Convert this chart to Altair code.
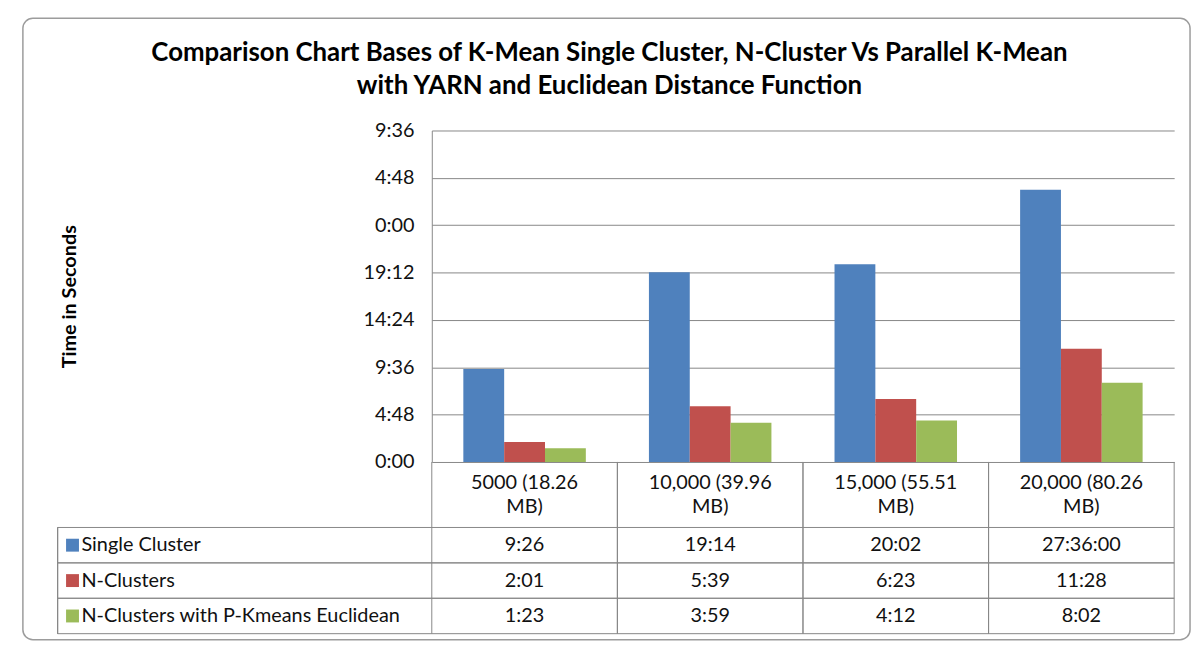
import altair as alt
import pandas as pd

categories = ["5000 (18.26 MB)", "10,000 (39.96 MB)", "15,000 (55.51 MB)", "20,000 (80.26 MB)"]
series = ["Single Cluster", "N-Clusters", "N-Clusters with P-Kmeans Euclidean"]
single_cluster = ["9:26", "19:14", "20:02", "27:36:00"]
n_clusters = ["2:01", "5:39", "6:23", "11:28"]
p_kmeans = ["1:23", "3:59", "4:12", "8:02"]
colors = ["#4F81BD", "#C0504D", "#9BBB59"]
y_ticks = [0, 4.8, 9.6, 14.4, 19.2, 24.0, 28.8, 33.6]
title_lines = ["Comparison Chart Bases of K-Mean Single Cluster, N-Cluster Vs Parallel K-Mean",
               "with YARN and Euclidean Distance Function"]


def to_hours(s):
    parts = s.split(":")
    return int(parts[0]) + int(parts[1]) / 60


rows = []
for name, vals in zip(series, [single_cluster, n_clusters, p_kmeans]):
    for cat, v in zip(categories, vals):
        rows.append({"category": cat, "series": name, "label": v, "hours": to_hours(v)})
df = pd.DataFrame(rows)
cat_df = pd.DataFrame({"category": categories})
ser_df = pd.DataFrame({"series": series})

W = 748
LEFT = -377
FONT = "Lato"
FS = 20
GRID = "#878787"
TXT = "#111111"
color_scale = alt.Scale(domain=series, range=colors)

label_expr = ("floor(datum.value % 24) + ':' + "
              "(round((datum.value % 1) * 60) < 10 ? '0' : '') + round((datum.value % 1) * 60)")

bar_layer = alt.Chart(df).mark_bar().encode(
    x=alt.X("category:N", sort=categories, axis=None,
            scale=alt.Scale(paddingInner=0.34, paddingOuter=0.17)),
    xOffset=alt.XOffset("series:N", sort=series),
    y=alt.Y("hours:Q", scale=alt.Scale(domain=[0, 33.6], nice=False, zero=True),
            axis=alt.Axis(values=y_ticks, labelExpr=label_expr, title="Time in Seconds",
                          grid=True, gridColor=GRID, gridOpacity=1, domainColor=GRID,
                          ticks=False, labelFontSize=FS, labelPadding=18, labelColor=TXT,
                          titleFontSize=FS, titleFontWeight="bold", titleColor="#000000",
                          titleX=-355, titleY=167)),
    color=alt.Color("series:N", scale=color_scale, legend=None),
)
title1 = alt.Chart(pd.DataFrame({"t": [title_lines[0]]})).mark_text(
    fontSize=26, fontWeight="bold", color="#000000", baseline="middle").encode(
    text="t:N", x=alt.value(179), y=alt.value(-78))
title2 = alt.Chart(pd.DataFrame({"t": [title_lines[1]]})).mark_text(
    fontSize=26, fontWeight="bold", color="#000000", baseline="middle").encode(
    text="t:N", x=alt.value(179), y=alt.value(-45))
bars = alt.layer(bar_layer, title1, title2).properties(width=W, height=334)

xcat = dict(sort=categories, axis=None, scale=alt.Scale(padding=0))

hdr_base = alt.Chart(cat_df)
hdr_text = hdr_base.transform_calculate(
    txt="replace(datum.category, ' MB)', '\\nMB)')"
).mark_text(lineBreak="\n", fontSize=FS, lineHeight=24, baseline="middle", color=TXT).encode(
    x=alt.X("category:N", **xcat), y=alt.value(21), text="txt:N")
hdr_l = hdr_base.mark_rule(color=GRID).encode(x=alt.X("category:N", bandPosition=0, **xcat))
hdr_r = hdr_base.mark_rule(color=GRID).encode(x=alt.X("category:N", bandPosition=1, **xcat))
header = alt.layer(hdr_l, hdr_r, hdr_text).properties(width=W, height=66)

yser = dict(sort=series, axis=None, scale=alt.Scale(padding=0))
body_vals = alt.Chart(df).mark_text(fontSize=FS, color=TXT).encode(
    x=alt.X("category:N", **xcat), y=alt.Y("series:N", **yser), text="label:N")
body_l = hdr_base.mark_rule(color=GRID).encode(x=alt.X("category:N", bandPosition=0, **xcat))
body_r = hdr_base.mark_rule(color=GRID).encode(x=alt.X("category:N", bandPosition=1, **xcat))
ser_base = alt.Chart(ser_df)
body_top = ser_base.mark_rule(color=GRID).encode(
    y=alt.Y("series:N", bandPosition=0, **yser), x=alt.value(LEFT), x2=alt.value(W))
body_bot = ser_base.mark_rule(color=GRID).encode(
    y=alt.Y("series:N", bandPosition=1, **yser), x=alt.value(LEFT), x2=alt.value(W))
body_left = ser_base.mark_rule(color=GRID).encode(x=alt.value(LEFT))
swatch = ser_base.mark_square(size=169, opacity=1).encode(
    x=alt.value(-362), y=alt.Y("series:N", **yser),
    color=alt.Color("series:N", scale=color_scale, legend=None))
names = ser_base.mark_text(align="left", fontSize=FS, color=TXT).encode(
    x=alt.value(-353), y=alt.Y("series:N", **yser), text="series:N")
# Excel chart-area frame (rounded outline around the whole chart)
frame = alt.Chart(ser_df.iloc[:1]).mark_rect(
    filled=False, stroke="#9C9C9C", strokeWidth=1.5, cornerRadius=10
).encode(x=alt.value(-412), x2=alt.value(764), y=alt.value(-513), y2=alt.value(113))
body = alt.layer(frame, body_l, body_r, body_top, body_bot, body_left, swatch, names,
                 body_vals).properties(width=W, height=107)

chart = alt.vconcat(bars, header, body, spacing=0, bounds="flush").resolve_scale(
    x="independent", y="independent"
).properties(
    padding={"left": 14, "top": 7, "right": 4, "bottom": 4},
).configure(font=FONT).configure_view(stroke=None)

chart.save("out.html", embed_options={"renderer": "svg", "actions": False})
